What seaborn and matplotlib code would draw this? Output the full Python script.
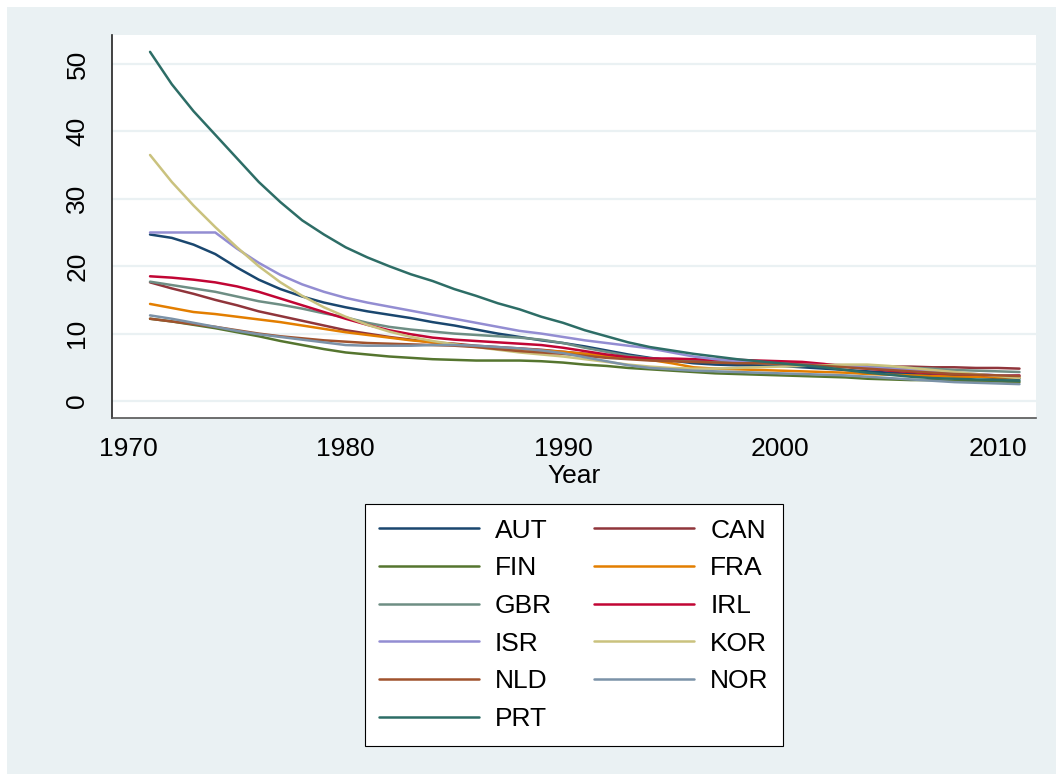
import numpy as np
import pandas as pd
import seaborn as sns
import matplotlib.pyplot as plt
from matplotlib.patches import Rectangle

years = list(range(1971, 2012))

countries = ['AUT', 'CAN', 'FIN', 'FRA', 'GBR', 'IRL', 'ISR', 'KOR', 'NLD', 'NOR', 'PRT']

aut = [24.7, 24.2, 23.2, 21.8, 19.8, 18.0, 16.6, 15.5, 14.6, 13.9, 13.3, 12.8, 12.3, 11.7,
       11.2, 10.6, 10.0, 9.5, 9.0, 8.6, 8.1, 7.5, 6.9, 6.4, 6.0, 5.6, 5.4, 5.3, 5.3, 5.2,
       5.0, 4.8, 4.6, 4.4, 4.2, 4.0, 3.8, 3.7, 3.6, 3.4, 3.3]
can = [17.6, 16.7, 15.9, 15.0, 14.2, 13.3, 12.6, 11.9, 11.2, 10.5, 10.0, 9.5, 9.1, 8.7,
       8.5, 8.2, 8.0, 7.8, 7.6, 7.3, 7.0, 6.7, 6.5, 6.3, 6.1, 6.0, 5.9, 5.8, 5.7, 5.6,
       5.5, 5.4, 5.3, 5.2, 5.1, 5.1, 5.0, 5.0, 4.9, 4.9, 4.8]
fin = [12.2, 11.8, 11.3, 10.8, 10.2, 9.6, 8.9, 8.3, 7.7, 7.2, 6.9, 6.6, 6.4, 6.2,
       6.1, 6.0, 6.0, 6.0, 5.9, 5.7, 5.4, 5.2, 4.9, 4.7, 4.5, 4.3, 4.1, 4.0, 3.9, 3.8,
       3.7, 3.6, 3.5, 3.3, 3.2, 3.1, 3.1, 3.0, 3.0, 2.9, 2.8]
fra = [14.4, 13.8, 13.2, 12.9, 12.5, 12.1, 11.7, 11.2, 10.7, 10.2, 9.8, 9.4, 9.0, 8.7,
       8.4, 8.1, 7.9, 7.7, 7.5, 7.3, 7.0, 6.7, 6.4, 6.1, 5.6, 5.0, 4.8, 4.7, 4.6, 4.5,
       4.4, 4.3, 4.2, 4.0, 3.9, 3.8, 3.7, 3.6, 3.6, 3.5, 3.5]
gbr = [17.7, 17.2, 16.7, 16.2, 15.5, 14.8, 14.3, 13.7, 13.0, 12.4, 11.6, 11.0, 10.6, 10.3,
       10.0, 9.8, 9.6, 9.4, 9.1, 8.6, 7.9, 7.3, 6.7, 6.3, 6.1, 6.0, 5.9, 5.8, 5.6, 5.5,
       5.4, 5.3, 5.2, 5.1, 5.0, 4.9, 4.8, 4.6, 4.5, 4.4, 4.3]
irl = [18.5, 18.3, 18.0, 17.6, 17.0, 16.2, 15.2, 14.2, 13.2, 12.2, 11.3, 10.5, 9.9, 9.4,
       9.1, 8.9, 8.7, 8.5, 8.3, 7.9, 7.4, 6.9, 6.5, 6.3, 6.3, 6.2, 6.1, 6.1, 6.0, 5.9,
       5.8, 5.5, 5.1, 4.8, 4.5, 4.3, 4.1, 4.0, 3.9, 3.8, 3.8]
isr = [25.0, 25.0, 25.0, 25.0, 22.6, 20.5, 18.7, 17.3, 16.2, 15.3, 14.6, 14.0, 13.4, 12.8,
       12.2, 11.6, 11.0, 10.4, 10.0, 9.5, 9.0, 8.6, 8.2, 7.8, 7.2, 6.6, 6.2, 5.9, 5.7, 5.5,
       5.4, 5.3, 5.2, 5.0, 4.8, 4.6, 4.4, 4.2, 4.0, 3.8, 3.7]
kor = [36.5, 32.5, 29.0, 25.8, 22.8, 20.0, 17.6, 15.6, 13.9, 12.5, 11.3, 10.3, 9.5, 8.9,
       8.4, 8.0, 7.6, 7.2, 6.9, 6.6, 6.2, 5.8, 5.4, 5.1, 4.9, 4.8, 4.8, 4.9, 5.0, 5.1,
       5.2, 5.3, 5.4, 5.4, 5.2, 4.9, 4.6, 4.3, 4.0, 3.7, 3.4]
nld = [12.2, 11.8, 11.4, 11.0, 10.5, 10.0, 9.6, 9.3, 9.0, 8.8, 8.6, 8.5, 8.4, 8.3,
       8.2, 8.0, 7.7, 7.4, 7.2, 7.0, 6.7, 6.4, 6.2, 6.0, 5.9, 5.8, 5.7, 5.6, 5.6, 5.5,
       5.4, 5.2, 5.0, 4.8, 4.6, 4.4, 4.2, 4.0, 3.9, 3.8, 3.7]
nor = [12.7, 12.2, 11.6, 11.0, 10.4, 9.9, 9.5, 9.1, 8.7, 8.3, 8.2, 8.2, 8.2, 8.3,
       8.3, 8.2, 8.0, 7.8, 7.5, 7.1, 6.5, 5.9, 5.3, 4.9, 4.7, 4.5, 4.4, 4.3, 4.2, 4.1,
       4.0, 3.9, 3.8, 3.6, 3.4, 3.2, 3.0, 2.8, 2.7, 2.6, 2.5]
prt = [51.8, 47.0, 43.0, 39.5, 36.0, 32.5, 29.5, 26.8, 24.7, 22.8, 21.3, 20.0, 18.8, 17.8,
       16.6, 15.6, 14.5, 13.6, 12.5, 11.6, 10.5, 9.6, 8.7, 8.0, 7.5, 7.0, 6.6, 6.2, 5.9, 5.6,
       5.3, 5.0, 4.6, 4.2, 3.9, 3.6, 3.4, 3.3, 3.2, 3.1, 3.0]

series = [aut, can, fin, fra, gbr, irl, isr, kor, nld, nor, prt]

# Stata s2color colours
colors = ['#1a476f', '#90353b', '#55752f', '#e37e00', '#6e8e84', '#c10534',
          '#938dd2', '#cac27e', '#a0522d', '#7b92a8', '#2d6d66']

df = pd.DataFrame({
    'Year': np.tile(years, len(countries)),
    'value': np.concatenate(series),
    'country': np.repeat(countries, len(years)),
})

sns.set_style('white')
plt.rcParams['font.family'] = ['Liberation Sans', 'DejaVu Sans']
plt.rcParams['text.color'] = 'black'
plt.rcParams['xtick.color'] = 'black'
plt.rcParams['ytick.color'] = 'black'
plt.rcParams['axes.labelcolor'] = 'black'

W, H = 1056, 774
fig = plt.figure(figsize=(W / 100, H / 100), dpi=100, facecolor='white')
bg = '#eaf1f3'
fig.patches.append(Rectangle((7 / W, 0), 1, 1 - 7 / H, transform=fig.transFigure,
                             facecolor=bg, edgecolor='none', zorder=-10))

ax = fig.add_axes([111.7 / W, 1 - 417.7 / H, (1036 - 111.7) / W, (417.7 - 35) / H])
ax.set_facecolor('white')

sns.lineplot(data=df, x='Year', y='value', hue='country', hue_order=countries,
             palette=dict(zip(countries, colors)), linewidth=1.8, ax=ax)

ax.set_xlim(1969.236, 2011.76)
ax.set_ylim(-2.48, 54.3)
ax.set_yticks([0, 10, 20, 30, 40, 50])
ax.set_xticks([1970, 1980, 1990, 2000, 2010])
ax.yaxis.grid(True, color=bg, linewidth=1.6)
ax.set_axisbelow(True)

for s in ['top', 'right']:
    ax.spines[s].set_visible(False)
ax.spines['left'].set_color('#222222')
ax.spines['bottom'].set_color('#555555')
for s in ['left', 'bottom']:
    ax.spines[s].set_linewidth(1.2)

ax.tick_params(axis='both', which='major', length=8, width=1, color='#333333',
               labelsize=19, direction='out')
ax.tick_params(axis='y', pad=8)
ax.tick_params(axis='x', pad=6)
plt.setp(ax.get_yticklabels(), rotation=90, va='center')

ax.set_ylabel('')
ax.set_xlabel('Year', fontsize=19, labelpad=2)

handles, labels = ax.get_legend_handles_labels()
ax.get_legend().remove()
order = ['AUT', 'FIN', 'GBR', 'ISR', 'NLD', 'PRT', 'CAN', 'FRA', 'IRL', 'KOR', 'NOR']
hmap = dict(zip(labels, handles))
leg = fig.legend([hmap[c] for c in order], order, ncol=2, loc='upper center',
                 bbox_to_anchor=(573.9 / W, 1 - 504 / H), borderaxespad=0,
                 fontsize=19, frameon=True, fancybox=False, framealpha=1,
                 edgecolor='black', handlelength=3.77, handletextpad=0.62,
                 columnspacing=1.6, labelspacing=0.52, borderpad=0.55)
leg.get_frame().set_linewidth(0.8)
for line in leg.get_lines():
    line.set_linewidth(1.8)

fig.savefig('out.png', dpi=100, facecolor=fig.get_facecolor())
